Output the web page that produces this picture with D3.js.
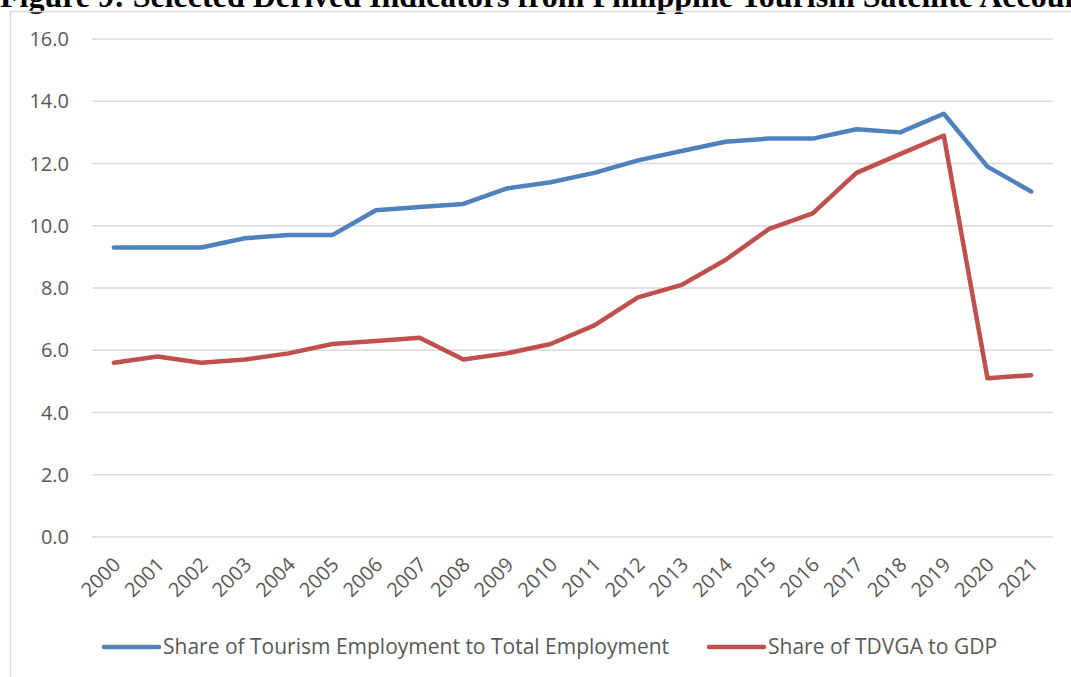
<!DOCTYPE html>
<html lang="en">
<head>
    <meta charset="UTF-8">
    <title>Selected Derived Indicators from Philippine TSA</title>
    <style>
        body {
            margin: 0;
            overflow: hidden;
            background-color: #fff;
        }
        text {
            fill: #595959;
            font-family: "Open Sans", sans-serif;
        }
    </style>
</head>
<body>
    <svg id="svgCanvas" width="1071" height="677"></svg>
    <script src="https://d3js.org/d3.v7.min.js"></script>
    <script>
        const years = ["2000", "2001", "2002", "2003", "2004", "2005", "2006", "2007", "2008", "2009", "2010",
                       "2011", "2012", "2013", "2014", "2015", "2016", "2017", "2018", "2019", "2020", "2021"];
        const employmentShare = [9.3, 9.3, 9.3, 9.6, 9.7, 9.7, 10.5, 10.6, 10.7, 11.2, 11.4,
                                 11.7, 12.1, 12.4, 12.7, 12.8, 12.8, 13.1, 13.0, 13.6, 11.9, 11.1];
        const tdvgaShare = [5.6, 5.8, 5.6, 5.7, 5.9, 6.2, 6.3, 6.4, 5.7, 5.9, 6.2,
                            6.8, 7.7, 8.1, 8.9, 9.9, 10.4, 11.7, 12.3, 12.9, 5.1, 5.2];
        const yTicks = [0, 2, 4, 6, 8, 10, 12, 14, 16];
        const seriesNames = ["Share of Tourism Employment to Total Employment", "Share of TDVGA to GDP"];
        const seriesColors = ["#4F81BD", "#C0504D"];

        const series = [employmentShare, tdvgaShare];

        const svg = d3.select("#svgCanvas");

        // title, mostly cut off at the top of the picture
        svg.append("text")
            .attr("x", 0)
            .attr("y", 7)
            .style("font-family", "'Liberation Serif', serif")
            .style("font-weight", "bold")
            .style("font-size", "32px")
            .style("fill", "#000")
            .text("Figure 9: Selected Derived Indicators from Philippine Tourism Satellite Accounts");

        // chart frame
        svg.append("rect")
            .attr("x", 10.5)
            .attr("y", 11.5)
            .attr("width", 1100)
            .attr("height", 700)
            .attr("fill", "none")
            .attr("stroke", "#D9D9D9")
            .attr("stroke-width", 1.5);

        const x = d3.scalePoint()
            .domain(years)
            .range([92, 1053])
            .padding(0.5);

        const y = d3.scaleLinear()
            .domain([0, 16])
            .range([537, 39]);

        // gridlines
        svg.append("g")
            .selectAll("line")
            .data(yTicks)
            .join("line")
            .attr("x1", 92)
            .attr("x2", 1053)
            .attr("y1", d => y(d))
            .attr("y2", d => y(d))
            .attr("stroke", "#D9D9D9")
            .attr("stroke-width", 1.5);

        // y tick labels
        svg.append("g")
            .selectAll("text")
            .data(yTicks)
            .join("text")
            .attr("x", 69)
            .attr("y", d => y(d))
            .attr("dy", "0.35em")
            .attr("text-anchor", "end")
            .style("font-size", "20px")
            .text(d => d.toFixed(1));

        // x tick labels, rotated
        svg.append("g")
            .selectAll("text")
            .data(years)
            .join("text")
            .attr("transform", d => `translate(${x(d) + 3},${561}) rotate(-45)`)
            .attr("dy", "0.35em")
            .attr("text-anchor", "end")
            .style("font-size", "20px")
            .text(d => d);

        const line = d3.line()
            .x((d, i) => x(years[i]))
            .y(d => y(d));

        svg.append("g")
            .selectAll("path")
            .data(series)
            .join("path")
            .attr("d", line)
            .attr("fill", "none")
            .attr("stroke", (d, i) => seriesColors[i])
            .attr("stroke-width", 4.5)
            .attr("stroke-linejoin", "round")
            .attr("stroke-linecap", "round");

        // legend
        const legendX = [104, 709];
        const legend = svg.append("g")
            .selectAll("g")
            .data(seriesNames)
            .join("g")
            .attr("transform", (d, i) => `translate(${legendX[i]},647)`);

        legend.append("line")
            .attr("x1", 0)
            .attr("x2", 55)
            .attr("stroke", (d, i) => seriesColors[i])
            .attr("stroke-width", 4.5)
            .attr("stroke-linecap", "round");

        legend.append("text")
            .attr("x", 59)
            .attr("dy", "0.35em")
            .style("font-size", "21px")
            .text(d => d);
    </script>
</body>
</html>
